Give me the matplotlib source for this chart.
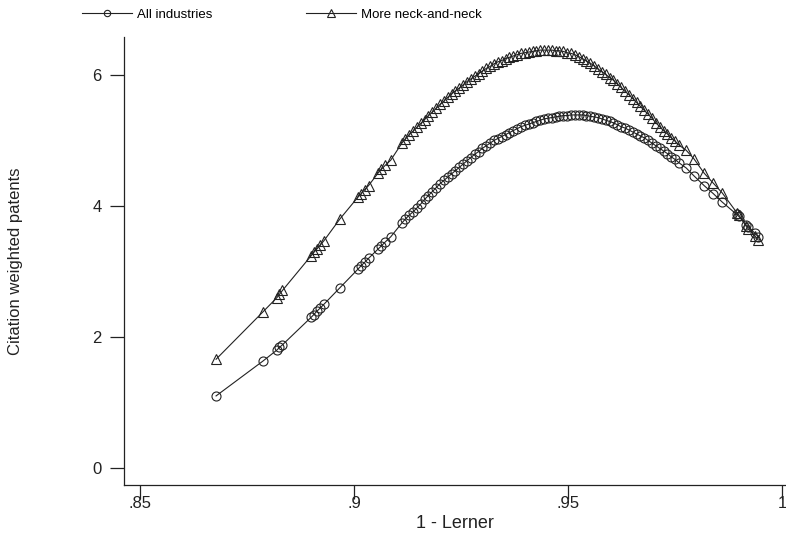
import numpy as np
import matplotlib
matplotlib.use("Agg")
import matplotlib.pyplot as plt

plt.rcParams['font.family'] = ['Liberation Sans', 'DejaVu Sans']

# 1 - Lerner index (shared x values for both fitted series)
lerner = [0.8678, 0.8787, 0.8820, 0.8826, 0.8833, 0.8900, 0.8906, 0.8913, 0.8921, 0.8930,
          0.8967, 0.9010, 0.9017, 0.9025, 0.9034, 0.9056, 0.9064, 0.9073, 0.9086, 0.9112,
          0.9120, 0.9129, 0.9138, 0.9147, 0.9156, 0.9165, 0.9174, 0.9183, 0.9192, 0.9201,
          0.9210, 0.9219, 0.9228, 0.9237, 0.9246, 0.9255, 0.9264, 0.9273, 0.9282, 0.9291,
          0.9300, 0.9309, 0.9318, 0.9327, 0.9336, 0.9345, 0.9354, 0.9363, 0.9372, 0.9381,
          0.9390, 0.9399, 0.9408, 0.9417, 0.9426, 0.9435, 0.9444, 0.9453, 0.9462, 0.9471,
          0.9480, 0.9489, 0.9498, 0.9507, 0.9516, 0.9525, 0.9534, 0.9543, 0.9552, 0.9561,
          0.9570, 0.9579, 0.9588, 0.9597, 0.9606, 0.9615, 0.9624, 0.9633, 0.9642, 0.9651,
          0.9660, 0.9669, 0.9678, 0.9687, 0.9696, 0.9705, 0.9714, 0.9723, 0.9732, 0.9741,
          0.9750, 0.9759, 0.9776, 0.9794, 0.9818, 0.9839, 0.9860, 0.9894, 0.9899, 0.9916,
          0.9921, 0.9937, 0.9944]

# All industries
all_ind = [1.10, 1.63, 1.80, 1.84, 1.88, 2.30, 2.34, 2.39, 2.44, 2.50,
           2.75, 3.04, 3.09, 3.14, 3.20, 3.34, 3.39, 3.45, 3.53, 3.74,
           3.80, 3.86, 3.91, 3.97, 4.03, 4.10, 4.16, 4.22, 4.28, 4.34,
           4.39, 4.44, 4.49, 4.54, 4.59, 4.64, 4.69, 4.74, 4.79, 4.83,
           4.88, 4.92, 4.96, 5.00, 5.03, 5.06, 5.09, 5.12, 5.15, 5.18,
           5.21, 5.23, 5.25, 5.27, 5.29, 5.31, 5.33, 5.34, 5.35, 5.36,
           5.37, 5.38, 5.38, 5.39, 5.39, 5.39, 5.39, 5.38, 5.37, 5.36,
           5.35, 5.33, 5.31, 5.29, 5.27, 5.24, 5.21, 5.19, 5.16, 5.13,
           5.10, 5.07, 5.04, 5.00, 4.96, 4.92, 4.88, 4.84, 4.80, 4.75,
           4.71, 4.66, 4.58, 4.46, 4.31, 4.19, 4.06, 3.87, 3.84, 3.71,
           3.68, 3.58, 3.53]

# More neck-and-neck industries
neck = [1.66, 2.38, 2.60, 2.65, 2.71, 3.24, 3.29, 3.34, 3.40, 3.47,
        3.80, 4.14, 4.19, 4.25, 4.31, 4.50, 4.56, 4.62, 4.70, 4.96,
        5.02, 5.09, 5.14, 5.20, 5.26, 5.32, 5.38, 5.43, 5.49, 5.55,
        5.60, 5.66, 5.71, 5.76, 5.80, 5.85, 5.90, 5.94, 5.98, 6.02,
        6.06, 6.10, 6.13, 6.17, 6.20, 6.22, 6.25, 6.27, 6.29, 6.31,
        6.33, 6.34, 6.35, 6.36, 6.37, 6.38, 6.38, 6.38, 6.38, 6.37,
        6.37, 6.36, 6.34, 6.33, 6.31, 6.28, 6.25, 6.21, 6.18, 6.14,
        6.09, 6.05, 6.01, 5.96, 5.92, 5.86, 5.81, 5.75, 5.70, 5.64,
        5.58, 5.52, 5.46, 5.40, 5.34, 5.27, 5.21, 5.15, 5.10, 5.04,
        4.99, 4.93, 4.85, 4.72, 4.50, 4.35, 4.20, 3.90, 3.86, 3.69,
        3.65, 3.54, 3.48]

xticks = [0.85, 0.9, 0.95, 1.0]
xticklabels = ['.85', '.9', '.95', '1']
yticks = [0, 2, 4, 6]

fig = plt.figure(figsize=(7.86, 5.33), dpi=100)
ax = fig.add_axes([124/786, 48/533, 662/786, 448/533])

col = '#222222'
ax.plot(lerner, all_ind, color=col, lw=0.8, marker='o', ms=6.5, mfc='none',
        mec=col, mew=0.8, label='All industries')
ax.plot(lerner, neck, color=col, lw=0.8, marker='^', ms=7.5, mfc='none',
        mec=col, mew=0.8, label='More neck-and-neck')

ax.set_xlim(0.8463, 1.0009)
ax.set_ylim(-0.26, 6.58)
ax.set_xticks(xticks)
ax.set_xticklabels(xticklabels)
ax.set_yticks(yticks)
for s in ['top', 'right']:
    ax.spines[s].set_visible(False)
for s in ['left', 'bottom']:
    ax.spines[s].set_linewidth(0.9)
    ax.spines[s].set_color(col)
ax.tick_params(direction='out', length=10, width=0.9, colors=col, labelsize=12)
ax.tick_params(axis='x', pad=-2)
ax.tick_params(axis='y', pad=6)

ax.set_xlabel('1 - Lerner', fontsize=13, color=col, labelpad=2.5)
ax.set_ylabel('Citation weighted patents', fontsize=12, color=col, labelpad=50)

fig.legend(loc='upper left', bbox_to_anchor=(73/786, 1.0), ncol=2, frameon=False,
           handlelength=3.8, handletextpad=0.38, columnspacing=7.1, fontsize=9.5,
           markerscale=0.7, borderaxespad=0.25)

fig.savefig('out.png', dpi=100)
